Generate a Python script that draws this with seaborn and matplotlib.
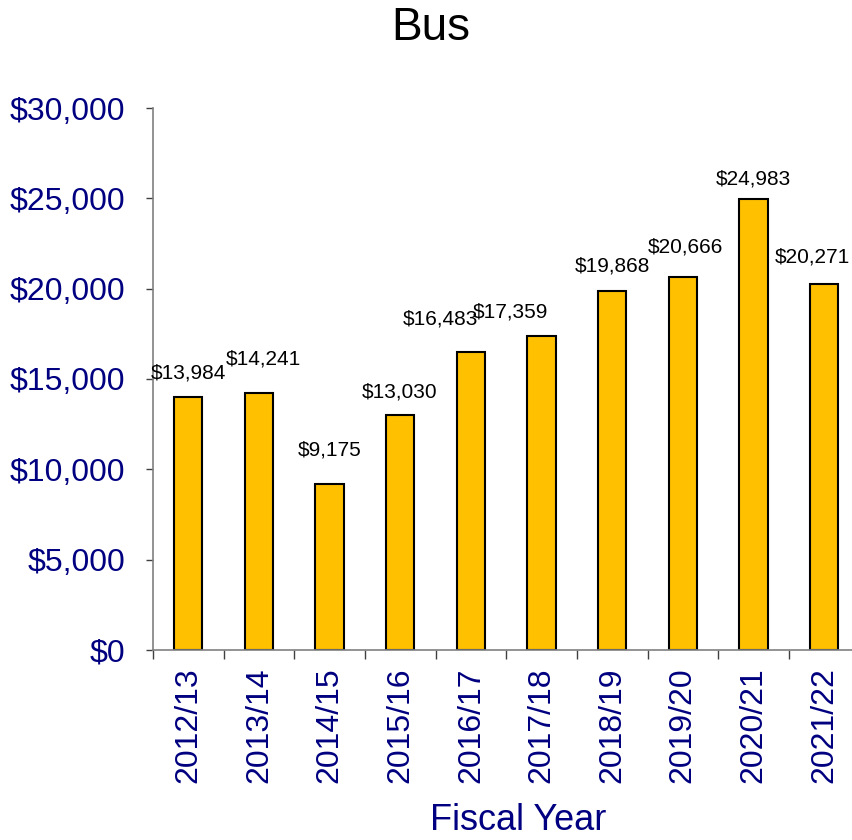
import numpy as np
import pandas as pd
import seaborn as sns
import matplotlib.pyplot as plt

years = ['2012/13', '2013/14', '2014/15', '2015/16', '2016/17',
         '2017/18', '2018/19', '2019/20', '2020/21', '2021/22']
costs = [13984, 14241, 9175, 13030, 16483, 17359, 19868, 20666, 24983, 20271]

# label offsets in pixels from the top centre of each bar (as placed in the original)
label_dx = [0, 4, 0, -1, -30, -31, 0, 3, 0, -12]
label_dy = [24, 34, 34, 23, 33, 24, 25, 30, 20, 27]

df = pd.DataFrame({'year': years, 'cost': costs})

sns.set_style('white')
plt.rcParams['font.family'] = ['Liberation Sans', 'DejaVu Sans']

navy = '#000080'
fig = plt.figure(figsize=(8.53, 8.40), dpi=100)
ax = fig.add_axes([153 / 853, 1 - 650 / 840, (859.5 - 153) / 853, (650 - 108) / 840])

sns.barplot(data=df, x='year', y='cost', color='#FFC000', saturation=1,
            edgecolor='black', linewidth=1.5, width=0.4, ax=ax)

ax.set_xlim(-0.5, len(years) - 0.5)
ax.set_ylim(0, 30000)
ax.set_yticks(np.arange(0, 30001, 5000))
ax.set_yticklabels([f'${v:,.0f}' for v in np.arange(0, 30001, 5000)])

# major ticks at category boundaries, labels on minor ticks at centres
ax.set_xticks(np.arange(-0.5, len(years), 1))
ax.set_xticklabels([])
ax.set_xticks(np.arange(len(years)), minor=True)
ax.set_xticklabels(years, minor=True, rotation=90)

ax.tick_params(axis='x', which='major', length=6.5, width=1, color='#404040', direction='out', bottom=True)
ax.tick_params(axis='x', which='minor', length=0, pad=12.5, labelsize=23, labelcolor=navy)
ax.tick_params(axis='y', length=5, width=1, color='#404040', direction='out', left=True,
               pad=15, labelsize=23, labelcolor=navy)

for side in ['top', 'right']:
    ax.spines[side].set_visible(False)
for side in ['left', 'bottom']:
    ax.spines[side].set_color('#808080')
    ax.spines[side].set_linewidth(1.2)

ax.set_xlabel('')
ax.set_ylabel('')

for i, v in enumerate(costs):
    ax.annotate(f'${v:,}', xy=(i, v), xytext=(label_dx[i], label_dy[i]),
                textcoords='offset pixels', ha='center', va='center',
                fontsize=15, color='black')

fig.text(431 / 853, 1 - 28 / 840, 'Bus', ha='center', va='center', fontsize=33, color='black')
fig.text(518 / 853, 1 - 820 / 840, 'Fiscal Year', ha='center', va='center', fontsize=26, color=navy)

fig.savefig('out.png', dpi=100)
